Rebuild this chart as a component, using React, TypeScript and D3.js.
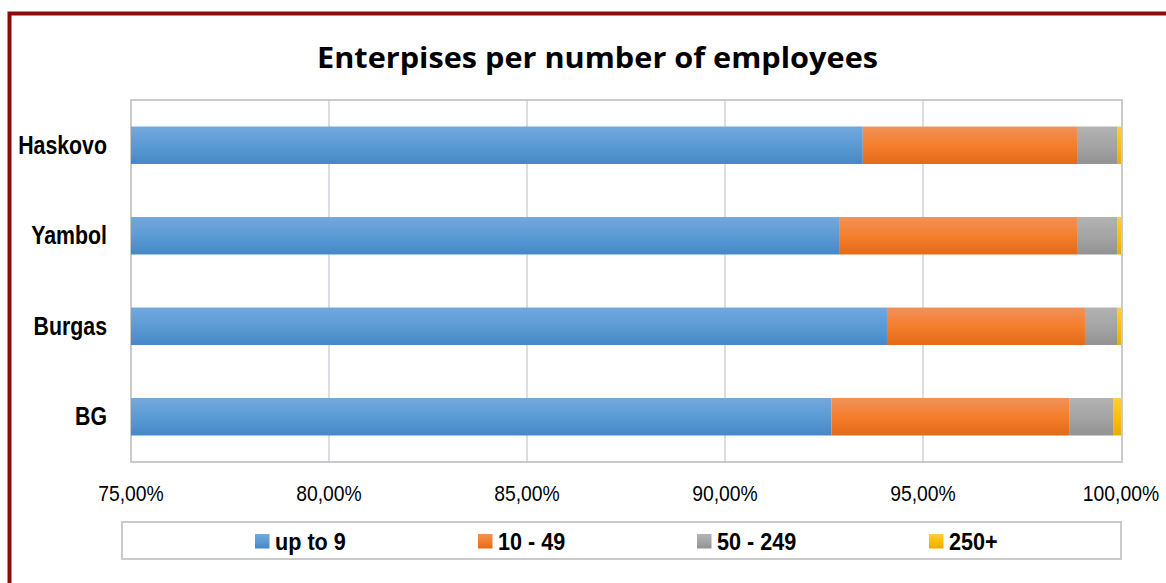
import React from "react";
import * as d3 from "d3";

const categories = ["Haskovo", "Yambol", "Burgas", "BG"];
const seriesNames = ["up to 9", "10 - 49", "50 - 249", "250+"];
const upTo9 = [93.48, 92.9, 94.09, 92.69];
const from10to49 = [5.41, 5.99, 5.0, 6.0];
const from50to249 = [1.01, 1.01, 0.81, 1.11];
const over250 = [0.1, 0.1, 0.1, 0.2];
const tickValues = [75, 80, 85, 90, 95, 100];

const W = 1166;
const H = 583;
const plot = { left: 131, right: 1121, top: 100, bottom: 462 };

const gradients = [
  { id: "gBlue", stops: ["#72a8dd", "#5b9bd5", "#4587c7"] },
  { id: "gOrange", stops: ["#f1915a", "#f47f2c", "#e36a17"] },
  { id: "gGray", stops: ["#b2b2b2", "#a5a5a5", "#929292"] },
  { id: "gYellow", stops: ["#ffcb45", "#ffc000", "#e6ad00"] },
];
const legendX = [255, 478, 697, 929];

export default function App() {
  const series = [upTo9, from10to49, from50to249, over250];
  const x = d3.scaleLinear().domain([75, 100]).range([plot.left, plot.right]).clamp(true);
  const y = d3
    .scaleBand<string>()
    .domain(categories)
    .range([plot.top, plot.bottom])
    .paddingInner(0.586)
    .paddingOuter(0.293);

  const rows = categories.map((c, i) => {
    let acc = 0;
    return series.map((s, k) => {
      const x0 = acc;
      acc += s[i];
      return { cat: c, k, x0, x1: acc };
    });
  });

  const fmt = (v: number) => v.toFixed(2).replace(".", ",") + "%";

  return (
    <svg
      width={W}
      height={H}
      style={{ position: "fixed", left: 0, top: 0, background: "#fff" }}
    >
      <defs>
        {gradients.map((g) => (
          <linearGradient key={g.id} id={g.id} x1="0" y1="0" x2="0" y2="1">
            <stop offset="0" stopColor={g.stops[0]} />
            <stop offset="0.5" stopColor={g.stops[1]} />
            <stop offset="1" stopColor={g.stops[2]} />
          </linearGradient>
        ))}
      </defs>
      <rect x={0} y={0} width={W} height={H} fill="#fff" />
      {/* outer border */}
      <rect
        x={9.5}
        y={13.5}
        width={W + 20}
        height={H + 20}
        fill="none"
        stroke="#8c0a0a"
        strokeWidth={4}
      />
      {/* title */}
      <text
        x={597.5}
        y={68}
        textAnchor="middle"
        fontFamily="'Open Sans', sans-serif"
        fontWeight={700}
        fontSize={28}
        textLength={561}
        lengthAdjust="spacingAndGlyphs"
        fill="#000"
      >
        Enterpises per number of employees
      </text>
      {/* gridlines */}
      {tickValues.slice(1, -1).map((t) => (
        <line
          key={t}
          x1={x(t)}
          x2={x(t)}
          y1={plot.top}
          y2={plot.bottom}
          stroke="#dcdde3"
          strokeWidth={2}
        />
      ))}
      {/* plot frame */}
      <rect
        x={plot.left}
        y={plot.top}
        width={plot.right - plot.left + 1}
        height={plot.bottom - plot.top}
        fill="none"
        stroke="#cacaca"
        strokeWidth={2}
      />
      {/* bars */}
      {rows.map((segs) =>
        segs.map((s) => (
          <rect
            key={s.cat + s.k}
            x={x(s.x0)}
            y={y(s.cat)}
            width={Math.max(0, x(s.x1) - x(s.x0))}
            height={y.bandwidth()}
            fill={`url(#${gradients[s.k].id})`}
          />
        ))
      )}
      {/* category labels */}
      {categories.map((c) => (
        <text
          key={c}
          transform={`translate(107,${(y(c) as number) + y.bandwidth() / 2 + 8.5}) scale(0.82,1)`}
          textAnchor="end"
          fontFamily="'Liberation Sans', Arial, sans-serif"
          fontWeight={700}
          fontSize={26}
          fill="#000"
        >
          {c}
        </text>
      ))}
      {/* tick labels */}
      {tickValues.map((t) => (
        <text
          key={t}
          transform={`translate(${x(t)},501) scale(0.86,1)`}
          textAnchor="middle"
          fontFamily="'Liberation Sans', Arial, sans-serif"
          fontSize={22.5}
          fill="#000"
        >
          {fmt(t)}
        </text>
      ))}
      {/* legend */}
      <rect
        x={122}
        y={522}
        width={999}
        height={37}
        fill="#fff"
        stroke="#cacaca"
        strokeWidth={2}
      />
      {seriesNames.map((n, k) => (
        <g key={n}>
          <rect
            x={legendX[k]}
            y={534}
            width={14.5}
            height={14.5}
            fill={`url(#${gradients[k].id})`}
          />
          <text
            transform={`translate(${legendX[k] + 20},550) scale(0.9,1)`}
            fontFamily="'Liberation Sans', Arial, sans-serif"
            fontWeight={700}
            fontSize={24}
            fill="#000"
          >
            {n}
          </text>
        </g>
      ))}
    </svg>
  );
}
